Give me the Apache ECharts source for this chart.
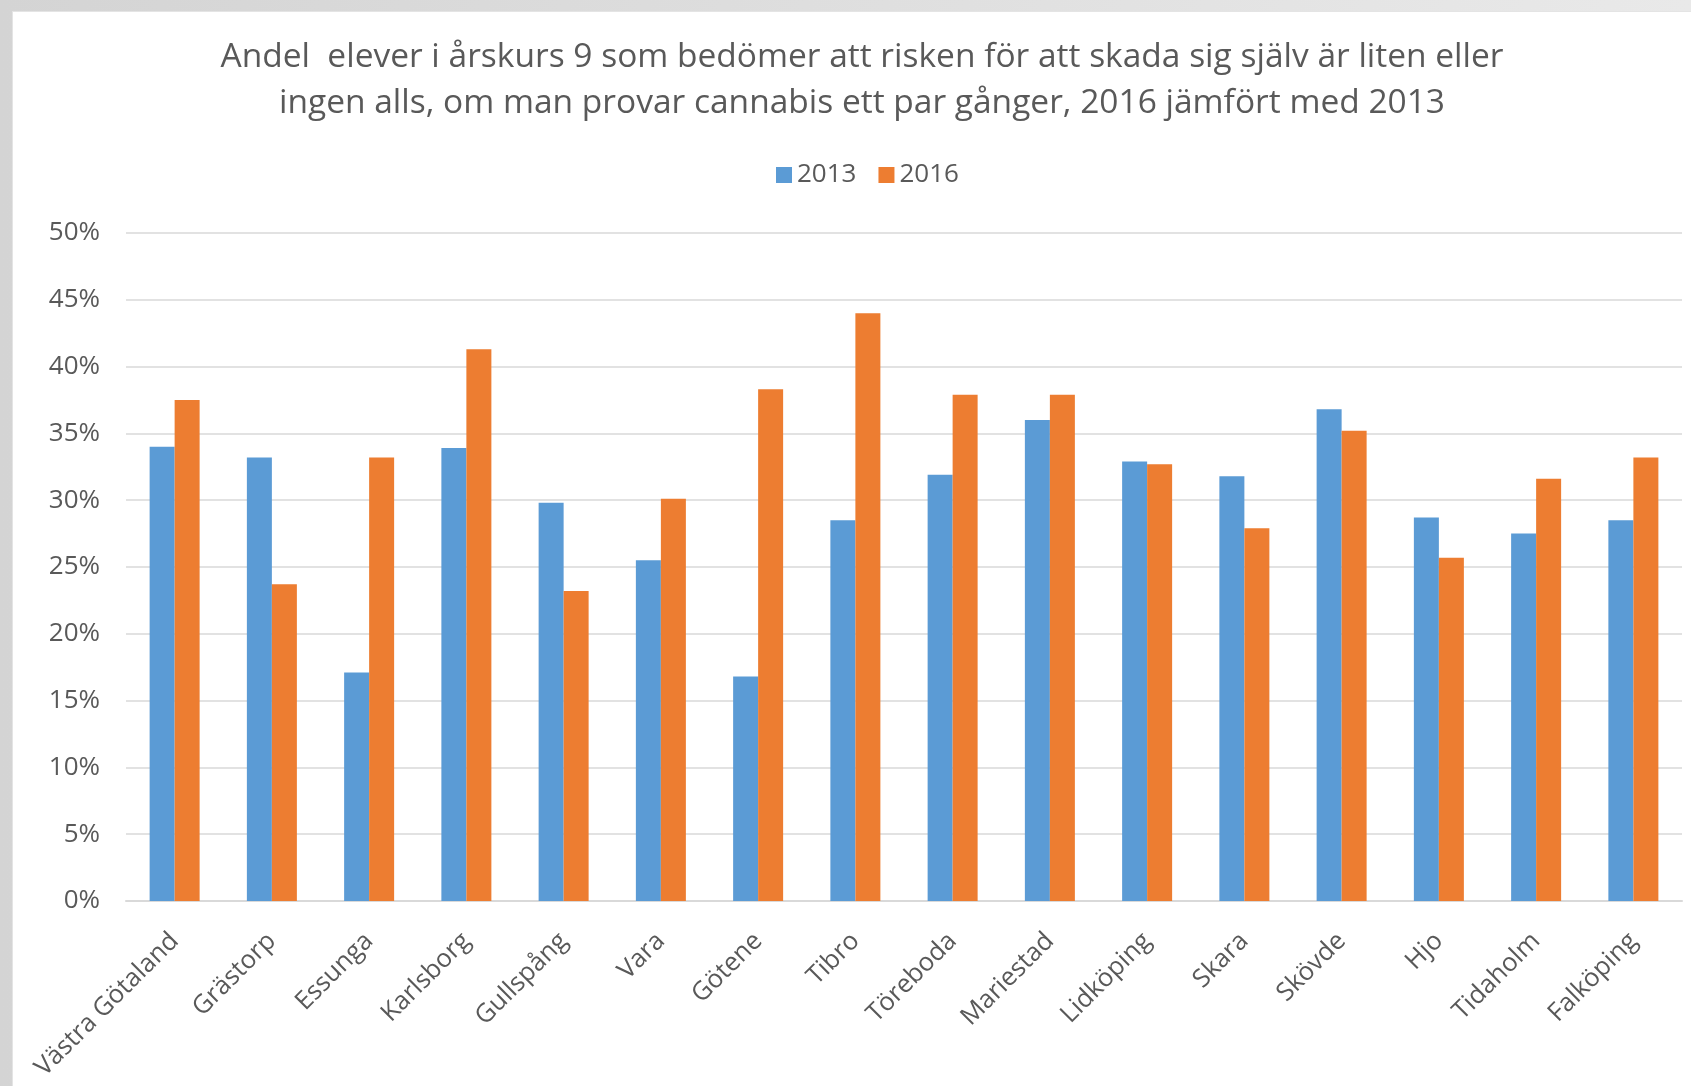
<!DOCTYPE html>
<html>
<head>
<meta charset="utf-8">
<script src="https://cdn.jsdelivr.net/npm/echarts@6/dist/echarts.min.js"></script>
<style>
  html, body {
    margin: 0;
    padding: 0;
    width: 1691px;
    height: 1086px;
    overflow: hidden;
    background: linear-gradient(to right, #d4d4d4, #e9e9e9);
  }
  #chart {
    position: absolute;
    left: 12px;
    top: 11px;
    width: 1679px;
    height: 1075px;
    background: #ffffff;
    box-shadow: inset 1px 1px 0 #e4e4e4;
  }
</style>
</head>
<body>
<div id="chart"></div>
<script>
const titleText = 'Andel  elever i årskurs 9 som bedömer att risken för att skada sig själv är liten eller\ningen alls, om man provar cannabis ett par gånger, 2016 jämfört med 2013'

const kommuner = [
  'Västra Götaland', 'Grästorp', 'Essunga', 'Karlsborg', 'Gullspång', 'Vara',
  'Götene', 'Tibro', 'Töreboda', 'Mariestad', 'Lidköping', 'Skara',
  'Skövde', 'Hjo', 'Tidaholm', 'Falköping',
]

// andel i procent
const andel2013 = [34.0, 33.2, 17.1, 33.9, 29.8, 25.5, 16.8, 28.5, 31.9, 36.0, 32.9, 31.8, 36.8, 28.7, 27.5, 28.5]
const andel2016 = [37.5, 23.7, 33.2, 41.3, 23.2, 30.1, 38.3, 44.0, 37.9, 37.9, 32.7, 27.9, 35.2, 25.7, 31.6, 33.2]

const textColor = '#595959'
const lineColor = '#d9d9d9'
const font = 'Open Sans'

const chart = echarts.init(document.getElementById('chart'))

const option = {
  animation: false,
  title: {
    text: titleText,
    left: 845,
    top: 18,
    textAlign: 'center',
    textStyle: {
      fontFamily: font,
      fontSize: 33.5,
      fontWeight: 'normal',
      color: textColor,
      lineHeight: 46,
    },
  },
  legend: {
    data: ['2013', '2016'],
    left: 759,
    top: 146,
    icon: 'rect',
    itemWidth: 16,
    itemHeight: 16,
    itemGap: 22,
    textStyle: {
      fontFamily: font,
      fontSize: 26,
      color: textColor,
    },
  },
  grid: {
    left: 114,
    right: 9,
    top: 222,
    bottom: 185,
  },
  xAxis: {
    type: 'category',
    data: kommuner,
    axisTick: { show: false },
    axisLine: {
      lineStyle: { color: lineColor, width: 2 },
    },
    axisLabel: {
      rotate: 45,
      interval: 0,
      margin: 36,
      fontFamily: font,
      fontSize: 25.5,
      color: textColor,
    },
  },
  yAxis: {
    type: 'value',
    min: 0,
    max: 50,
    interval: 5,
    axisLine: { show: false },
    axisTick: { show: false },
    axisLabel: {
      margin: 26,
      fontFamily: font,
      fontSize: 26,
      color: textColor,
      formatter: '{value}%',
    },
    splitLine: {
      lineStyle: { color: lineColor, width: 1.5 },
    },
  },
  series: [
    {
      name: '2013',
      type: 'bar',
      data: andel2013,
      barWidth: 25,
      barGap: '0%',
      itemStyle: { color: '#5b9bd5' },
    },
    {
      name: '2016',
      type: 'bar',
      data: andel2016,
      barWidth: 25,
      itemStyle: { color: '#ed7d31' },
    },
  ],
}

chart.setOption(option)
</script>
</body>
</html>
